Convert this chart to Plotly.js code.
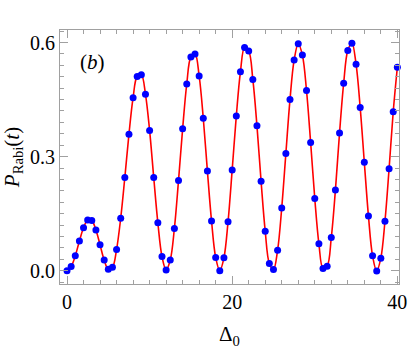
<!DOCTYPE html>
<html>
<head>
<meta charset="utf-8">
<script src="https://cdn.plot.ly/plotly-3.0.1.min.js"></script>
<style>
  html, body { margin: 0; padding: 0; background: #fff; }
  #chart { width: 409px; height: 354px; }
</style>
</head>
<body>
<div id="chart"></div>
<script>
// detuning values, step 0.5
const delta0 = [
  0, 0.5, 1, 1.5, 2, 2.5, 3, 3.5, 4, 4.5, 5, 5.5, 6, 6.5, 7, 7.5, 8, 8.5, 9, 9.5,
  10, 10.5, 11, 11.5, 12, 12.5, 13, 13.5, 14, 14.5, 15, 15.5, 16, 16.5, 17, 17.5, 18, 18.5, 19, 19.5,
  20, 20.5, 21, 21.5, 22, 22.5, 23, 23.5, 24, 24.5, 25, 25.5, 26, 26.5, 27, 27.5, 28, 28.5, 29, 29.5,
  30, 30.5, 31, 31.5, 32, 32.5, 33, 33.5, 34, 34.5, 35, 35.5, 36, 36.5, 37, 37.5, 38, 38.5, 39, 39.5,
  40
];

// Rabi probability
const pRabi = [
  0.000, 0.011, 0.039, 0.078, 0.113, 0.133, 0.132, 0.107, 0.068, 0.028,
  0.004, 0.009, 0.056, 0.138, 0.245, 0.359, 0.455, 0.511, 0.515, 0.464,
  0.369, 0.245, 0.126, 0.037, 0.002, 0.028, 0.111, 0.237, 0.373, 0.491,
  0.562, 0.570, 0.512, 0.401, 0.262, 0.131, 0.035, 0.000, 0.034, 0.129,
  0.265, 0.407, 0.523, 0.587, 0.578, 0.503, 0.381, 0.235, 0.104, 0.019,
  0.003, 0.054, 0.165, 0.308, 0.450, 0.554, 0.597, 0.567, 0.474, 0.337,
  0.190, 0.071, 0.006, 0.012, 0.087, 0.212, 0.362, 0.493, 0.579, 0.598,
  0.543, 0.429, 0.285, 0.144, 0.039, -0.001, 0.033, 0.130, 0.268, 0.418,
  0.535
];

const xTickVals = [0, 20, 40];
const yTickVals = [0.0, 0.3, 0.6];

const serif = 'Liberation Serif, Times New Roman, serif';

const lineTrace = {
  x: delta0,
  y: pRabi,
  type: 'scatter',
  mode: 'lines',
  line: { color: '#ff0000', width: 1.6, shape: 'spline', smoothing: 1 },
  hoverinfo: 'skip'
};

const dotTrace = {
  x: delta0,
  y: pRabi,
  type: 'scatter',
  mode: 'markers',
  cliponaxis: false,
  marker: { color: '#0000ff', size: 7 }
};

const axisCommon = {
  showgrid: false,
  zeroline: false,
  showline: true,
  linecolor: '#a0a0a0',
  linewidth: 1,
  mirror: 'allticks',
  ticks: 'inside',
  ticklen: 8,
  tickcolor: '#a0a0a0',
  tickfont: { family: serif, size: 20, color: '#000' }
};

const layout = {
  width: 409,
  height: 354,
  margin: { l: 60, r: 10, t: 30, b: 70 },
  paper_bgcolor: '#fff',
  plot_bgcolor: '#fff',
  showlegend: false,
  xaxis: Object.assign({}, axisCommon, {
    range: [-0.85, 40.2],
    tickvals: xTickVals,
    minor: { dtick: 2, ticks: 'inside', ticklen: 4, tickcolor: '#a0a0a0', showgrid: false },
    title: { text: 'Δ<sub>0</sub>', font: { family: serif, size: 21, color: '#000' }, standoff: 14 }
  }),
  yaxis: Object.assign({}, axisCommon, {
    range: [-0.035, 0.633],
    tickvals: yTickVals,
    tickformat: '.1f',
    minor: { dtick: 0.03, ticks: 'inside', ticklen: 4, tickcolor: '#a0a0a0', showgrid: false },
    title: { text: '<i>P</i><sub>Rabi</sub>(<i>t</i>)', font: { family: serif, size: 21, color: '#000' }, standoff: 6 }
  }),
  annotations: [{
    text: '(<i>b</i>)',
    xref: 'paper', yref: 'paper',
    x: 0.095, y: 0.875,
    xanchor: 'center', yanchor: 'middle',
    showarrow: false,
    font: { family: serif, size: 21, color: '#000' }
  }]
};

Plotly.newPlot('chart', [lineTrace, dotTrace], layout, { displayModeBar: false, staticPlot: true });
</script>
</body>
</html>
